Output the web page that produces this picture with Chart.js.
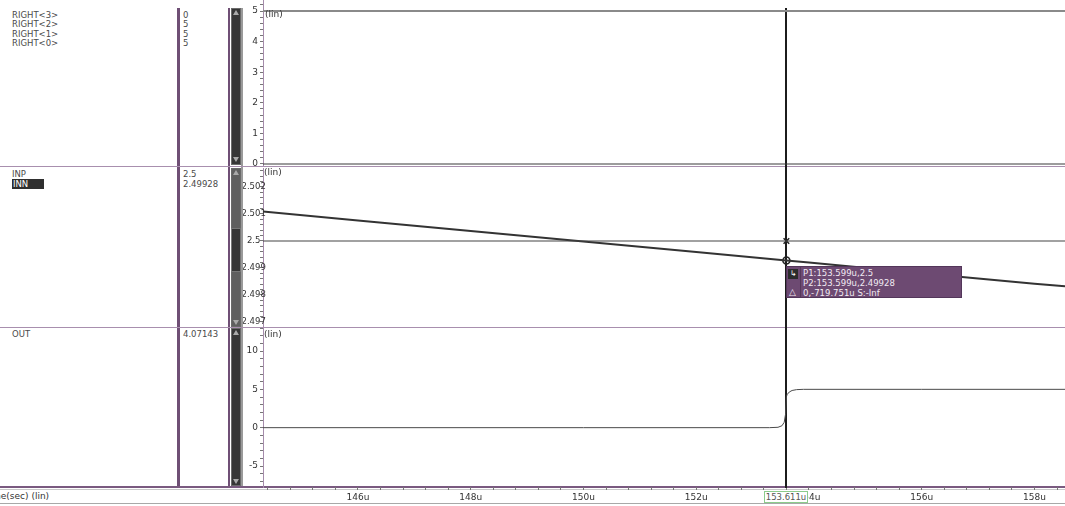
<!DOCTYPE html>
<html>
<head>
<meta charset="utf-8">
<script src="https://cdn.jsdelivr.net/npm/chart.js@4.4.1/dist/chart.umd.min.js"></script>
<style>
  body { margin: 0; background: #fff; overflow: hidden; font-family: "DejaVu Sans", sans-serif; }
  #stage { position: relative; width: 1065px; height: 506px; overflow: hidden; background: #fff; }
  .a { position: absolute; }
  canvas { position: absolute; }
  .txt { position: absolute; font-size: 8.5px; color: #4a4a4a; white-space: nowrap; }
  .rows div { height: 9.3px; line-height: 9.3px; }
  .rows2 div { height: 10px; line-height: 10px; }
  .sel { display: inline-block; width: 31px; background: #2f2f2f; color: #fff; padding-left: 1px; }
  .vsep { position: absolute; background: #6f4f75; }
  .hsep { position: absolute; left: 0; width: 1065px; }
  .track { position: absolute; left: 231px; width: 10px; border: 1px solid #6a6a6a; box-sizing: border-box; }
  .thumb { position: absolute; left: 231px; width: 10px; background: #363636; border: 1px solid #777; box-sizing: border-box; }
  .up, .dn { position: absolute; left: 233px; width: 0; height: 0; border-left: 3.5px solid transparent; border-right: 3.5px solid transparent; }
  .up { border-bottom: 5px solid #a9a9a9; }
  .dn { border-top: 5px solid #a9a9a9; }
  .lin { position: absolute; font-size: 9px; color: #333; }
  #tip { position: absolute; width: 176px; height: 32px; background: #6d4a72; border: 1px solid #53365a; box-sizing: border-box; color: #f2eaf3; font-size: 8.5px; }
  #tip .ico { position: absolute; left: 0; top: 0; width: 13px; height: 30px; border-right: 1px solid #55385b; }
  #tip .step { position: absolute; left: 1px; top: 2px; width: 10px; height: 10px; background: #2c2c2c; color: #fff; font-size: 8px; line-height: 10px; text-align: center; }
  #tip .tri { position: absolute; left: 2px; top: 20px; font-size: 9px; line-height: 10px; }
  #tip .lines { position: absolute; left: 16px; top: 1px; line-height: 10px; }
  #xbox { position: absolute; width: 44px; height: 12px; border: 1px solid #8ccc8c; background: #fff; box-sizing: border-box; font-size: 8.5px; line-height: 10px; color: #555; text-align: center; }
</style>
</head>
<body>
<div id="stage">
  <!-- column separators -->
  <div class="vsep" style="left:177px;top:8px;width:3px;height:480px"></div>
  <div class="vsep" style="left:228px;top:8px;width:2px;height:480px"></div>
  <div class="a" style="left:241px;top:8px;width:2px;height:480px;background:#9a9a9a"></div>

  <!-- strip separators -->
  <div class="hsep" style="top:166px;height:1px;background:#a88fae"></div>
  <div class="hsep" style="top:327px;height:1px;background:#a88fae"></div>
  <div class="hsep" style="top:486px;height:2px;background:#7a5a80"></div>
  <div class="hsep" style="top:489px;height:1px;background:#c8c8c8"></div>
  <div class="hsep" style="top:503px;height:1px;background:#a8a8a8"></div>

  <!-- scroll bars -->
  <div class="track" style="top:8px;height:157px;background:#363636"></div>
  <div class="up" style="top:10px"></div><div class="dn" style="top:157px"></div>
  <div class="track" style="top:168px;height:159px;background:#5f5f5f"></div>
  <div class="thumb" style="top:228px;height:44px"></div>
  <div class="up" style="top:170px"></div><div class="dn" style="top:320px"></div>
  <div class="track" style="top:328px;height:158px;background:#363636"></div>
  <div class="up" style="top:330px"></div><div class="dn" style="top:479px"></div>

  <!-- signal names and values -->
  <div id="names1" class="txt rows" style="left:12px;top:11px"></div>
  <div id="vals1" class="txt rows" style="left:183px;top:11px"></div>
  <div id="names2" class="txt rows2" style="left:12px;top:169px"></div>
  <div id="vals2" class="txt rows2" style="left:183px;top:169px"></div>
  <div id="names3" class="txt rows2" style="left:12px;top:329px"></div>
  <div id="vals3" class="txt rows2" style="left:183px;top:329px"></div>

  <canvas id="c1" width="822" height="170" style="left:243px;top:0px"></canvas>
  <canvas id="c2" width="822" height="168" style="left:243px;top:164px"></canvas>
  <canvas id="c3" width="822" height="184" style="left:243px;top:322px"></canvas>

  <div class="lin" style="left:265px;top:9px">(lin)</div>
  <div class="lin" style="left:264px;top:167px">(lin)</div>
  <div class="lin" style="left:264px;top:329px">(lin)</div>

  <div class="txt" style="left:-14px;top:491px;font-size:9px;color:#333">time(sec) (lin)</div>

  <div id="tip"><div class="ico"><div class="step">↳</div><div class="tri">△</div></div><div class="lines"></div></div>
  <div id="xbox"></div>
</div>

<script>
// time axis, microseconds
const timeRange = [144.315, 158.541];
const timeTicks = [146, 148, 150, 152, 154, 156, 158];

// digital bus bits (upper strip)
const rightNames = ['RIGHT<3>', 'RIGHT<2>', 'RIGHT<1>', 'RIGHT<0>'];
const rightLevels = [0, 5, 5, 5];
const rightTicks = [0, 1, 2, 3, 4, 5];

// comparator inputs (middle strip)
const inputNames = ['INP', 'INN'];
const inpTimes = [144.315, 158.541];
const inpValues = [2.5, 2.5];
const innTimes = [144.315, 146, 148, 150, 152, 153.599, 154, 156, 158, 158.541];
const innValues = [2.50109, 2.50076, 2.50037, 2.49998, 2.49959, 2.49928, 2.4992, 2.49881, 2.49842, 2.49832];
const inputTicks = [2.497, 2.498, 2.499, 2.5, 2.501, 2.502];

// comparator output (lower strip)
const outTimes = [144.315, 150, 153.3, 153.45, 153.52, 153.56, 153.585, 153.599, 153.615, 153.65, 153.7, 153.78, 153.9, 156, 158.541];
const outValues = [0, 0, 0, 0.05, 0.25, 0.7, 1.8, 4.07143, 4.35, 4.65, 4.85, 4.96, 5.0, 5.0, 5.0];
const outTicks = [-5, 0, 5, 10];

// cursor readout
const cursorTime = 153.599;
const cursorLabel = '153.611u';
const probe1 = [153.599, 2.5];
const probe2 = [153.599, 2.49928];
const cursorInputs = ['2.5', '2.49928'];
const cursorOut = '4.07143';
const readout = ['P1:153.599u,2.5', 'P2:153.599u,2.49928', '0,-719.751u S:-Inf'];

Chart.defaults.font.family = '"DejaVu Sans", sans-serif';
Chart.defaults.color = '#333';
Chart.defaults.animation = false;

// name / value columns
document.getElementById('names1').innerHTML = rightNames.map(n => '<div>' + n.replace(/</g, '&lt;').replace(/>/g, '&gt;') + '</div>').join('');
document.getElementById('vals1').innerHTML = rightLevels.map(v => '<div>' + v + '</div>').join('');
document.getElementById('names2').innerHTML = '<div>' + inputNames[0] + '</div><div><span class="sel">' + inputNames[1] + '</span></div>';
document.getElementById('vals2').innerHTML = cursorInputs.map(v => '<div>' + v + '</div>').join('');
document.getElementById('names3').innerHTML = '<div>OUT</div>';
document.getElementById('vals3').innerHTML = '<div>' + cursorOut + '</div>';
document.querySelector('#tip .lines').innerHTML = readout.join('<br>');
document.getElementById('xbox').textContent = cursorLabel;

const pts = (xs, ys) => xs.map((x, i) => ({ x: x, y: ys[i] }));

function tickSet(step, min, max) {
  const out = [];
  const start = Math.ceil(min / step - 1e-9);
  for (let k = start; k * step <= max + 1e-12; k++) out.push(+(k * step).toFixed(6));
  return out;
}

function majorOf(v, majors, step) {
  return majors.find(t => Math.abs(t - v) < step / 100);
}

// left value axis; "inside" centres the labels over the narrow axis column
function yScale(min, max, majors, step, size, inside) {
  return {
    type: 'linear', min: min, max: max,
    border: { color: '#a58bab', width: 1 },
    grid: { drawOnChartArea: false, drawTicks: true, tickLength: 3, color: '#777' },
    ticks: {
      autoSkip: false, font: { size: size }, color: '#333',
      mirror: !!inside, padding: inside ? -21.5 : 2, crossAlign: inside ? 'center' : 'near',
      callback: v => { const m = majorOf(v, majors, step); return m === undefined ? '' : String(m); }
    },
    afterBuildTicks: s => { s.ticks = tickSet(step, min, max).map(v => ({ value: v })); },
    afterFit: s => { s.width = 20; s.paddingTop = 0; s.paddingBottom = 0; }
  };
}

function xScale(show) {
  const step = 0.4;
  return {
    type: 'linear', min: timeRange[0], max: timeRange[1], display: show,
    border: { display: false },
    grid: { drawOnChartArea: false, drawTicks: true, tickLength: 3, color: '#777' },
    ticks: {
      autoSkip: false, maxRotation: 0, padding: 2, font: { size: 9 }, color: '#333',
      callback: v => { const m = majorOf(v, timeTicks, step); return m === undefined ? '' : m + 'u'; }
    },
    afterBuildTicks: s => { s.ticks = tickSet(step, timeRange[0], timeRange[1]).map(v => ({ value: v })); },
    afterFit: s => {
      s.height = show ? 19 : 0;
      s.paddingLeft = 0; s.paddingRight = 0;
    }
  };
}

// vertical time cursor shared by all strips
const cursorLine = {
  id: 'cursorLine',
  beforeDatasetsDraw(chart, args, opts) {
    const { ctx, chartArea, scales } = chart;
    const x = Math.round(scales.x.getPixelForValue(cursorTime));
    ctx.save();
    ctx.strokeStyle = '#1c1c1c';
    ctx.lineWidth = 2;
    ctx.beginPath();
    ctx.moveTo(x, chartArea.top + (opts.inset || 0));
    ctx.lineTo(x, chartArea.bottom + (opts.extend || 0));
    ctx.stroke();
    ctx.restore();
  }
};

function baseOptions(padding, show, y, cursorOpts) {
  return {
    responsive: false, devicePixelRatio: 1, animation: false,
    layout: { padding: padding, autoPadding: false },
    plugins: { legend: { display: false }, tooltip: { enabled: false }, cursorLine: cursorOpts },
    elements: { point: { radius: 0 }, line: { tension: 0 } },
    scales: { x: xScale(show), y: y }
  };
}

const lineSet = (data, color, width) => ({ data: data, borderColor: color, borderWidth: width, pointRadius: 0, fill: false });

const chartTop = new Chart(document.getElementById('c1'), {
  type: 'line',
  data: {
    datasets: rightLevels.map(lvl =>
      lineSet(pts(timeRange, [lvl, lvl]), lvl > 0 ? '#8a8a8a' : '#3a3a3a', lvl > 0 ? 2 : 1.2))
  },
  options: baseOptions({ top: 0, bottom: 5, left: 0, right: 0 }, false,
    yScale(-0.0327, 5.3595, rightTicks, 0.2, 9, false), { inset: 8, extend: 3 }),
  plugins: [cursorLine]
});

const chartMid = new Chart(document.getElementById('c2'), {
  type: 'line',
  data: {
    datasets: [
      lineSet(pts(inpTimes, inpValues), '#454545', 1.2),
      lineSet(pts(innTimes, innValues), '#333333', 2),
      { data: [{ x: probe1[0], y: probe1[1] }], showLine: false, pointStyle: 'crossRot', pointRadius: 4, pointBorderWidth: 1.5, pointBorderColor: '#222', pointBackgroundColor: '#222' },
      { data: [{ x: probe2[0], y: probe2[1] }], showLine: false, pointStyle: 'circle', pointRadius: 3.5, pointBorderWidth: 1.6, pointBorderColor: '#222', pointBackgroundColor: 'rgba(255,255,255,0)' }
    ]
  },
  options: baseOptions({ top: 4, bottom: 5, left: 0, right: 0 }, false,
    yScale(2.4968148, 2.5027037, inputTicks, 0.0002, 8.5, true), { inset: 0, extend: 1 }),
  plugins: [cursorLine]
});

const chartBot = new Chart(document.getElementById('c3'), {
  type: 'line',
  data: { datasets: [lineSet(pts(outTimes, outValues), '#4a4a4a', 1)] },
  options: baseOptions({ top: 6, bottom: 0, left: 0, right: 0 }, true,
    yScale(-7.739, 13.0, outTicks, 1, 9, false), { inset: 0, extend: 1 }),
  plugins: [cursorLine]
});

// place the readout box and the cursor time tag from the chart scales
const midLeft = 243, midTop = 164, botTop = 322;
const cx = midLeft + chartMid.scales.x.getPixelForValue(cursorTime);
const py = midTop + chartMid.scales.y.getPixelForValue(probe2[1]);
const tip = document.getElementById('tip');
tip.style.left = Math.round(cx) + 'px';
tip.style.top = Math.round(py + 6) + 'px';
const xbox = document.getElementById('xbox');
xbox.style.left = Math.round(midLeft + chartBot.scales.x.getPixelForValue(cursorTime) - 22) + 'px';
xbox.style.top = Math.round(botTop + chartBot.chartArea.bottom + 4) + 'px';
</script>
</body>
</html>
